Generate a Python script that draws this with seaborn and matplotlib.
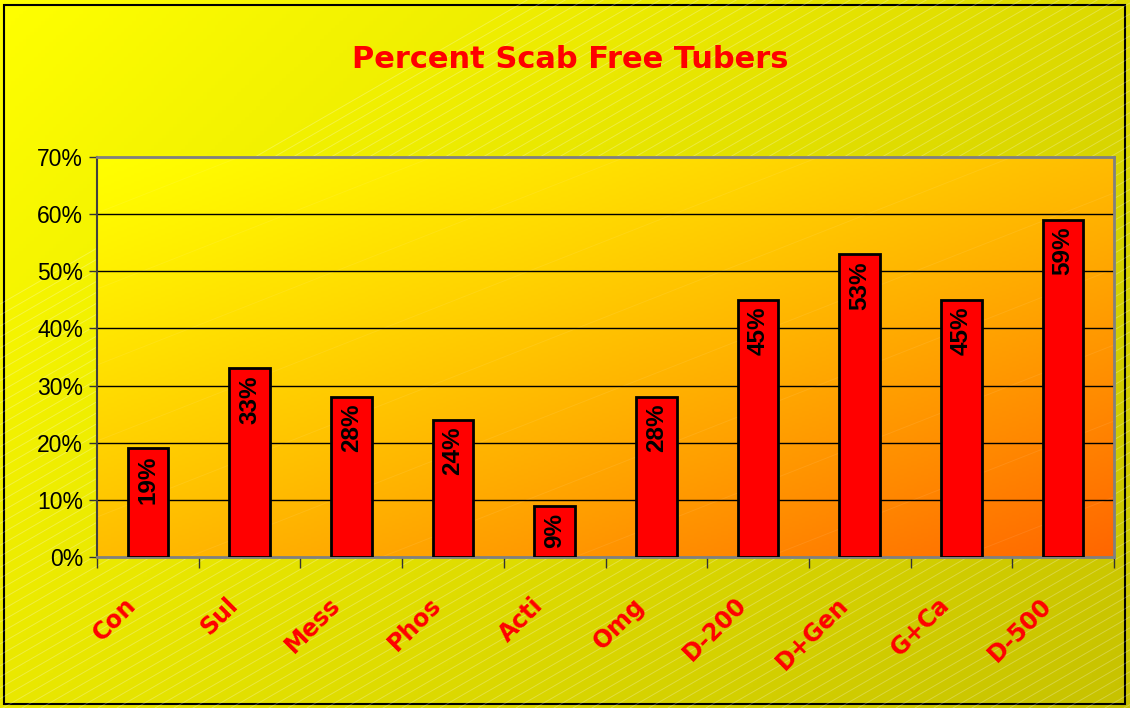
import matplotlib.pyplot as plt
import matplotlib.transforms as mtransforms
import numpy as np
import pandas as pd
import seaborn as sns
from matplotlib.ticker import FixedLocator, FuncFormatter

# data
treatments = ['Con', 'Sul', 'Mess', 'Phos', 'Acti', 'Omg', 'D-200', 'D+Gen', 'G+Ca', 'D-500']
scab_free = [19, 33, 28, 24, 9, 28, 45, 53, 45, 59]
y_ticks = [0, 10, 20, 30, 40, 50, 60, 70]

df = pd.DataFrame({'treatment': treatments, 'pct': scab_free})

sns.set_theme(style='white')
plt.rcParams['font.family'] = ['Liberation Sans', 'DejaVu Sans']

fig = plt.figure(figsize=(11.3, 7.08), dpi=100)

# outer background: yellow diagonal gradient with faint white hatch
bg = fig.add_axes([0, 0, 1, 1], zorder=-10)
gx, gy = np.meshgrid(np.linspace(0, 1, 300), np.linspace(1, 0, 200))
t = (gx * 1.6 + (1 - gy)) / 2.6
c0 = np.array([1.0, 1.0, 0.0])
c1 = np.array([0.78, 0.76, 0.0])
bg.imshow(c0 + (c1 - c0) * t[..., None], extent=[0, 1130, 0, 708], aspect='auto')
for k in np.arange(-700, 1400, 19):
    bg.plot([k, k + 1300], [0, 750], color='white', alpha=0.25, lw=0.7)
bg.set_xlim(0, 1130)
bg.set_ylim(0, 708)
bg.add_patch(plt.Rectangle((4, 4), 1121, 699, fill=False, ec='black', lw=1.5))
bg.axis('off')

# plot area with yellow -> orange gradient
ax = fig.add_axes([97 / 1130, 1 - 557 / 708, 1017 / 1130, 400 / 708])
px, py = np.meshgrid(np.linspace(0, 1, 300), np.linspace(1, 0, 200))
tp = np.clip((px + (1 - py)) / 2, 0, 1) ** 1.2
p0 = np.array([1.0, 1.0, 0.0])
p1 = np.array([1.0, 0.40, 0.0])
ax.imshow(p0 + (p1 - p0) * tp[..., None], extent=[0, 1, 0, 1], transform=ax.transAxes,
          aspect='auto', zorder=0)
for k in np.arange(-2.0, 1.5, 0.19):
    ax.plot([k, k + 1.3], [0, 1.3], color='white', alpha=0.08, lw=0.7,
            transform=ax.transAxes, zorder=0.5)

sns.barplot(data=df, x='treatment', y='pct', color='red', saturation=1, width=0.4,
            edgecolor='black', linewidth=2, ax=ax, zorder=3)

for i, v in enumerate(scab_free):
    ax.annotate(f'{v}%', (i, v), xytext=(0, -5), textcoords='offset points',
                rotation=90, ha='center', va='top', fontsize=17.5, fontweight='bold',
                color='black', zorder=4)

ax.set_ylim(0, 70)
ax.set_xlim(-0.5, len(treatments) - 0.5)
ax.set_yticks(y_ticks)
ax.yaxis.set_major_formatter(FuncFormatter(lambda v, p: f'{v:.0f}%'))
for yv in y_ticks[1:-1]:
    ax.axhline(yv, color='black', lw=1, zorder=1)

ax.set_xlabel('')
ax.set_ylabel('')
ax.tick_params(axis='y', which='major', left=True, length=6, width=1, color='#333333',
               labelsize=16.5, pad=4, labelcolor='black')
ax.tick_params(axis='x', which='major', bottom=False, length=0, pad=32)
ax.xaxis.set_minor_locator(FixedLocator(np.arange(-0.5, len(treatments), 1)))
ax.tick_params(axis='x', which='minor', bottom=True, length=8, width=1, color='#333333')

offset = mtransforms.ScaledTranslation(-15 / 100, 0, fig.dpi_scale_trans)
for lab in ax.get_xticklabels():
    lab.set_rotation(45)
    lab.set_rotation_mode('anchor')
    lab.set_ha('right')
    lab.set_va('center')
    lab.set_color('red')
    lab.set_fontweight('bold')
    lab.set_fontsize(17)
    lab.set_family(['DejaVu Sans'])
    lab.set_transform(lab.get_transform() + offset)

for s in ['top', 'right', 'bottom']:
    ax.spines[s].set_color('#808080')
    ax.spines[s].set_linewidth(2)
ax.spines['left'].set_color('#404040')
ax.spines['left'].set_linewidth(1.5)

fig.text(570 / 1130, 1 - 60 / 708, 'Percent Scab Free Tubers', ha='center', va='center',
         color='red', fontsize=22, fontweight='bold', family=['DejaVu Sans'])

fig.savefig('out.png', dpi=100)
